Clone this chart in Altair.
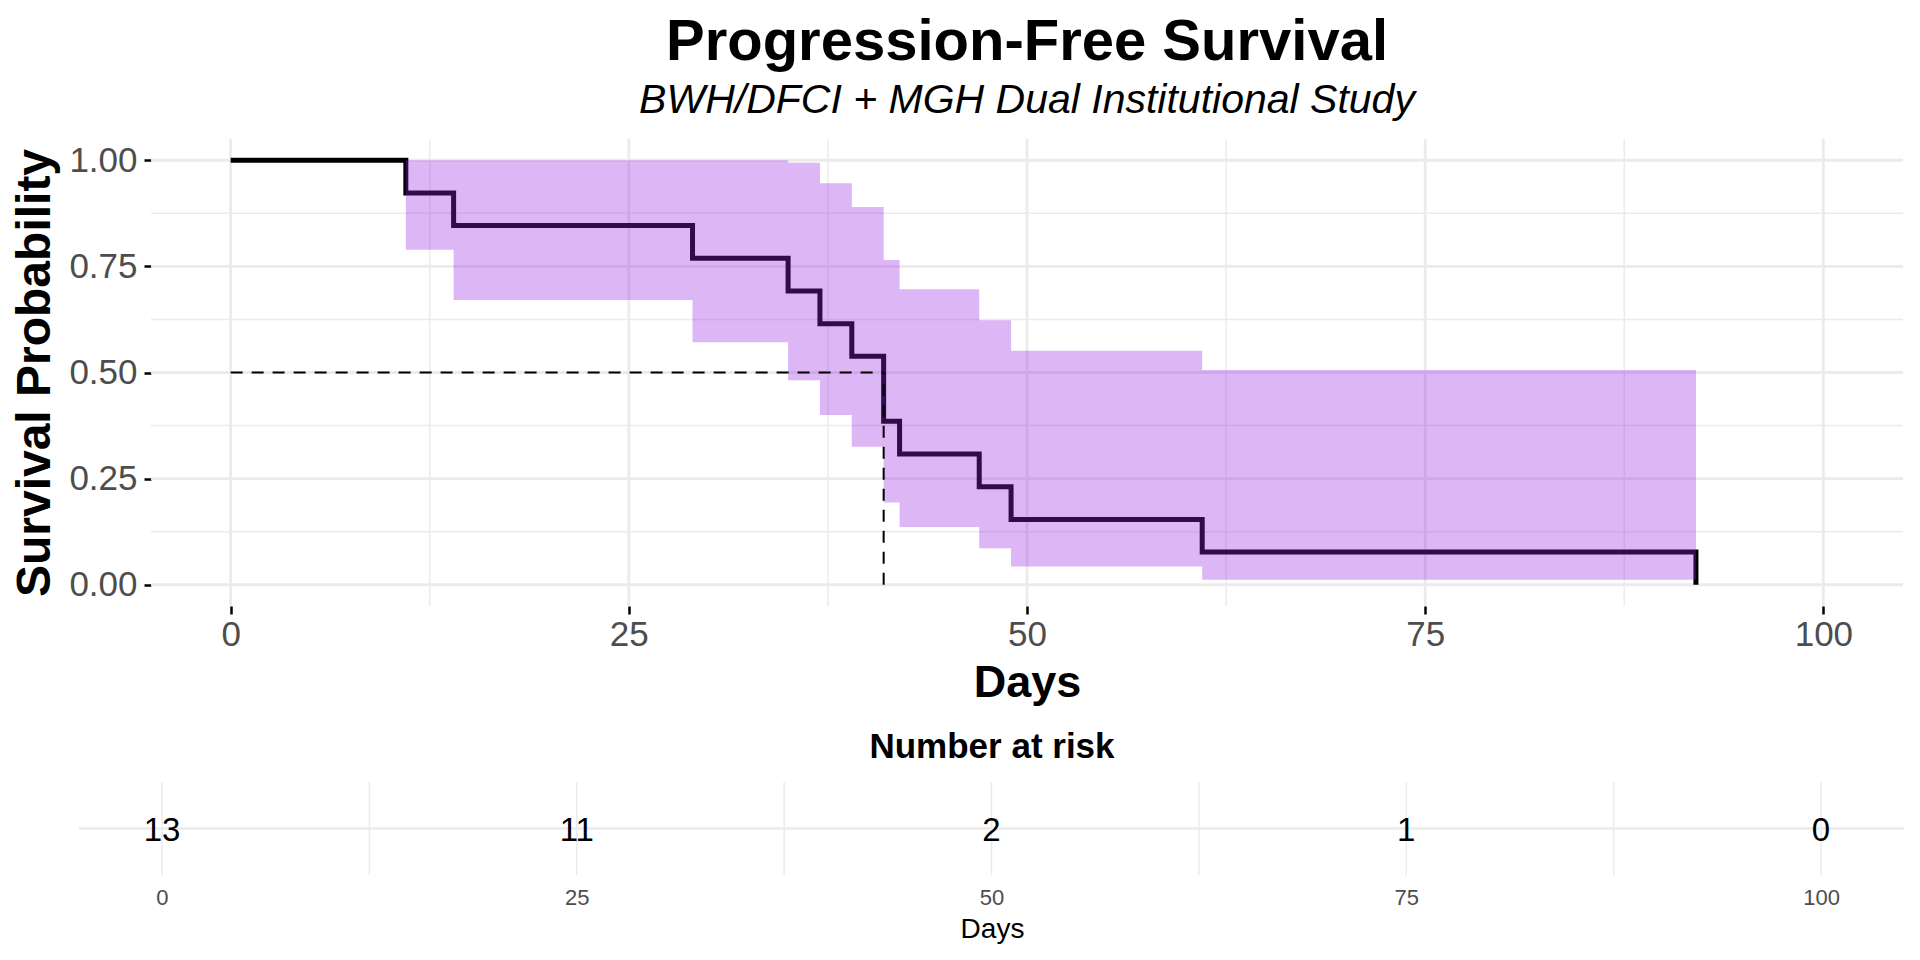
import altair as alt
import pandas as pd

# ---- data ----
times = [0, 11, 14, 29, 35, 37, 39, 41, 42, 47, 49, 61, 92]
surv = [1.0, 0.923, 0.846, 0.769, 0.692, 0.615, 0.538, 0.385, 0.308, 0.231, 0.154, 0.077, 0.0]

band_times = [11, 14, 29, 35, 37, 39, 41, 42, 47, 49, 61, 92]
band_upper = [1.0, 1.0, 1.0, 0.994, 0.946, 0.890, 0.765, 0.696, 0.623, 0.551, 0.506, 0.506]
band_lower = [0.789, 0.671, 0.571, 0.482, 0.400, 0.325, 0.194, 0.136, 0.086, 0.043, 0.012, 0.012]

median_time = 41
median_surv = 0.5

x_major = [0, 25, 50, 75, 100]
x_minor = [12.5, 37.5, 62.5, 87.5]
y_major = [0, 0.25, 0.5, 0.75, 1.0]
y_minor = [0.125, 0.375, 0.625, 0.875]

risk_times = [0, 25, 50, 75, 100]
risk_counts = [13, 11, 2, 1, 0]
risk_grid = [0, 12.5, 25, 37.5, 50, 62.5, 75, 87.5, 100]

FONT = "Liberation Sans"
GRID = "#EBEBEB"
LABEL = "#4D4D4D"

# ---- main KM plot ----
xs = alt.Scale(domain=[-5, 105], nice=False, zero=False)
ys = alt.Scale(domain=[-0.05, 1.05], nice=False, zero=False)

x_axis = alt.Axis(values=x_major, grid=False, domain=False, ticks=True, tickSize=8,
                  tickWidth=2.5, tickColor="black", labelFontSize=35, labelColor=LABEL,
                  labelPadding=3, labelFont=FONT, title="Days", titleFontSize=45,
                  titleFontWeight="bold", titleColor="black", titlePadding=8, titleFont=FONT)
y_axis = alt.Axis(values=y_major, format=".2f", grid=False, domain=False, ticks=True, tickSize=7,
                  tickWidth=2.5, tickColor="black", labelFontSize=35, labelColor=LABEL,
                  labelPadding=7, labelFont=FONT, title="Survival Probability", titleFontSize=48,
                  titleFontWeight="bold", titleColor="black", titlePadding=9, titleFont=FONT)

def X(f):
    return alt.X(f, type="quantitative", scale=xs, axis=x_axis)

def Y(f):
    return alt.Y(f, type="quantitative", scale=ys, axis=y_axis)

xminor_df = pd.DataFrame({"x": x_minor})
xmajor_df = pd.DataFrame({"x": x_major})
yminor_df = pd.DataFrame({"y": y_minor})
ymajor_df = pd.DataFrame({"y": y_major})
km_df = pd.DataFrame({"t": times, "s": surv})
band_df = pd.DataFrame({"t": band_times, "hi": band_upper, "lo": band_lower})
mh_df = pd.DataFrame({"x": [0], "x2": [median_time], "y": [median_surv]})
mv_df = pd.DataFrame({"x": [median_time], "y": [0], "y2": [median_surv]})

g_xminor = alt.Chart(xminor_df).mark_rule(color=GRID, strokeWidth=1.5).encode(x=X("x"))
g_xmajor = alt.Chart(xmajor_df).mark_rule(color=GRID, strokeWidth=2.8).encode(x=X("x"))
g_yminor = alt.Chart(yminor_df).mark_rule(color=GRID, strokeWidth=1.5).encode(y=Y("y"))
g_ymajor = alt.Chart(ymajor_df).mark_rule(color=GRID, strokeWidth=2.8).encode(y=Y("y"))

line = alt.Chart(km_df).mark_line(interpolate="step-after", color="black", strokeWidth=5).encode(
    x=X("t"), y=Y("s"))
band = alt.Chart(band_df).mark_area(interpolate="step-after", color="#9620E0", opacity=0.33).encode(
    x=X("t"), y=Y("hi"), y2="lo")
med_h = alt.Chart(mh_df).mark_rule(color="black", strokeWidth=2, strokeDash=[12, 9]).encode(
    x=X("x"), x2="x2", y=Y("y"))
med_v = alt.Chart(mv_df).mark_rule(color="black", strokeWidth=2, strokeDash=[12, 9]).encode(
    x=X("x"), y=Y("y"), y2="y2")

main = alt.layer(g_xminor, g_xmajor, g_yminor, g_ymajor, line, band, med_h, med_v).properties(
    width=1752, height=467,
    title=alt.TitleParams(
        "Progression-Free Survival",
        subtitle="BWH/DFCI + MGH Dual Institutional Study",
        fontSize=58, fontWeight="bold", font=FONT, color="black",
        subtitleFontSize=41, subtitleFontStyle="italic", subtitleFont=FONT,
        subtitleColor="black", subtitlePadding=9,
        anchor="middle", frame="group", offset=17,
    ),
)

# ---- risk table ----
txs = alt.Scale(domain=[-0.663, 104.94], nice=False, zero=False)
tys = alt.Scale(domain=[-1, 1], nice=False, zero=False)
t_axis = alt.Axis(values=risk_times, grid=False, domain=False, ticks=False, labelFontSize=22,
                  labelColor=LABEL, labelPadding=12, labelFont=FONT, title="Days",
                  titleFontSize=28, titleFontWeight="normal", titleColor="black",
                  titlePadding=7, titleFont=FONT, titleX=841)

def TX(f):
    return alt.X(f, type="quantitative", scale=txs, axis=t_axis)

def TY(f):
    return alt.Y(f, type="quantitative", scale=tys, axis=None)

tgrid_df = pd.DataFrame({"x": risk_grid})
thline_df = pd.DataFrame({"x": [-5], "x2": [105], "y": [0]})
risk_df = pd.DataFrame({"t": risk_times, "n": risk_counts, "y": [0] * len(risk_times)})

t_vgrid = alt.Chart(tgrid_df).mark_rule(color=GRID, strokeWidth=1.5).encode(x=TX("x"))
t_hgrid = alt.Chart(thline_df).mark_rule(color=GRID, strokeWidth=2.7, clip=False).encode(
    x=TX("x"), x2="x2", y=TY("y"))
t_text = alt.Chart(risk_df).mark_text(fontSize=33, font=FONT, color="black", dy=2).encode(
    x=TX("t"), y=TY("y"), text=alt.Text("n:Q"))

table = alt.layer(t_vgrid, t_hgrid, t_text).properties(
    width=1752, height=93,
    title=alt.TitleParams("Number at risk", fontSize=35, fontWeight="bold", font=FONT,
                          color="black", anchor="middle", frame="group", dx=-35, offset=16),
)

chart = alt.vconcat(main, table, spacing=25).properties(
    padding={"left": 3, "top": 5, "right": 5, "bottom": 3},
    background="white",
).configure(font=FONT).configure_view(stroke=None)

chart.save("out.html", embed_options={"renderer": "svg", "actions": False})
